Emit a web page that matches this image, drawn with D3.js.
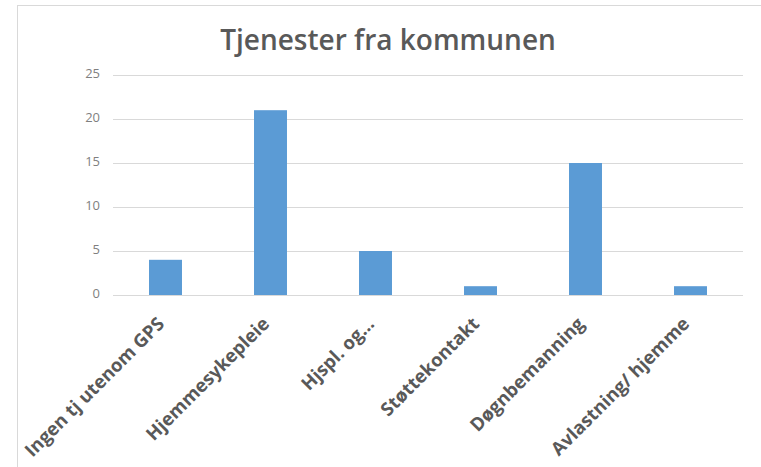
<!DOCTYPE html>
<html>
<head>
<meta charset="utf-8">
<script src="https://cdn.jsdelivr.net/npm/d3@7"></script>
<style>
  body { margin: 0; background: #fff; }
  text { font-family: "Open Sans", sans-serif; fill: #595959; }
</style>
</head>
<body>
<div id="chart"></div>
<script>
const categories = ['Ingen tj utenom GPS', 'Hjemmesykepleie', 'Hjspl. og…', 'Støttekontakt', 'Døgnbemanning', 'Avlastning/ hjemme'];
const values = [4, 21, 5, 1, 15, 1];
const yTicks = [0, 5, 10, 15, 20, 25];
const title = 'Tjenester fra kommunen';

const W = 761;
const H = 467;
const margin = { top: 75, right: 18, bottom: 172, left: 113 };
const width = W - margin.left - margin.right;
const height = H - margin.top - margin.bottom;

const root = d3.select('#chart').append('svg')
  .attr('width', W)
  .attr('height', H);

// chart frame
root.append('rect')
  .attr('x', 17.5)
  .attr('y', 5.5)
  .attr('width', 800)
  .attr('height', 500)
  .attr('fill', 'none')
  .attr('stroke', '#d9d9d9');

root.append('text')
  .attr('x', 388)
  .attr('y', 50)
  .attr('text-anchor', 'middle')
  .style('font-size', '28px')
  .style('font-weight', 600)
  .text(title);

const svg = root.append('g')
  .attr('transform', `translate(${margin.left},${margin.top})`);

const x = d3.scaleBand()
  .domain(categories)
  .range([0, width])
  .paddingInner(0.686)
  .paddingOuter(0.343);

const y = d3.scaleLinear()
  .domain([0, 25])
  .range([height, 0]);

svg.selectAll('.grid')
  .data(yTicks)
  .enter().append('line')
  .attr('class', 'grid')
  .attr('x1', 0)
  .attr('x2', width)
  .attr('y1', d => Math.round(y(d)) + 0.5)
  .attr('y2', d => Math.round(y(d)) + 0.5)
  .attr('stroke', '#d9d9d9');

svg.selectAll('.ylab')
  .data(yTicks)
  .enter().append('text')
  .attr('class', 'ylab')
  .attr('text-anchor', 'end')
  .attr('dominant-baseline', 'middle')
  .attr('x', -13)
  .attr('y', d => y(d))
  .style('font-size', '13px')
  .style('fill', '#7f7f7f')
  .text(d => d);

svg.selectAll('.bar')
  .data(values)
  .enter().append('rect')
  .attr('class', 'bar')
  .attr('x', (d, i) => x(categories[i]))
  .attr('y', d => y(d))
  .attr('width', x.bandwidth())
  .attr('height', d => height - y(d))
  .attr('fill', '#5b9bd5');

svg.selectAll('.xlab')
  .data(categories)
  .enter().append('text')
  .attr('class', 'xlab')
  .attr('text-anchor', 'end')
  .attr('transform', d => `translate(${x(d) + x.bandwidth() / 2},${height + 30}) rotate(-45)`)
  .style('font-size', '18.5px')
  .style('font-weight', 700)
  .text(d => d);
</script>
</body>
</html>
